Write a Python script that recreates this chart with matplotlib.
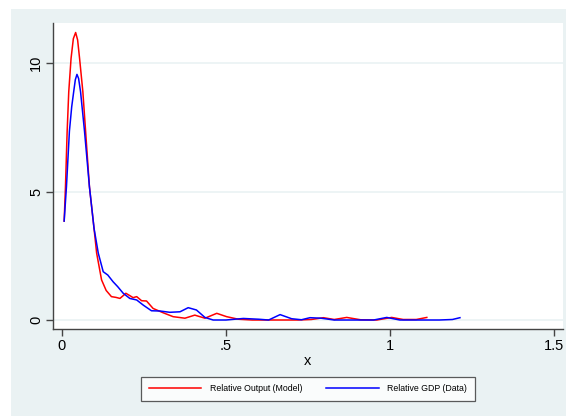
import matplotlib.pyplot as plt
from matplotlib.patches import Rectangle

plt.rcParams['font.family'] = ['Liberation Sans', 'DejaVu Sans']

# Relative Output (Model) density
model_x = [0.007, 0.011, 0.016, 0.021, 0.028, 0.035, 0.042, 0.048, 0.054, 0.064,
           0.071, 0.084, 0.098, 0.106, 0.121, 0.135, 0.151, 0.165, 0.177, 0.187,
           0.195, 0.207, 0.217, 0.228, 0.243, 0.258, 0.278, 0.309, 0.339, 0.375,
           0.405, 0.436, 0.472, 0.502, 0.538, 0.580, 0.650, 0.720, 0.760, 0.797,
           0.830, 0.868, 0.910, 0.960, 1.005, 1.040, 1.080, 1.112]
model_y = [3.85, 5.19, 7.3, 8.88, 10.18, 10.95, 11.19, 10.9, 10.18, 8.88,
           7.59, 5.19, 3.57, 2.6, 1.56, 1.15, 0.91, 0.88, 0.84, 0.95,
           1.04, 0.95, 0.87, 0.91, 0.75, 0.74, 0.45, 0.28, 0.13, 0.07,
           0.19, 0.07, 0.26, 0.13, 0.03, 0.0, 0.0, 0.0, 0.02, 0.09,
           0.02, 0.10, 0.01, 0.0, 0.10, 0.02, 0.02, 0.10]

# Relative GDP (Data) density
data_x = [0.007, 0.014, 0.023, 0.030, 0.036, 0.041, 0.046, 0.051, 0.057, 0.069,
          0.084, 0.098, 0.111, 0.126, 0.140, 0.156, 0.170, 0.187, 0.207, 0.228,
          0.248, 0.273, 0.299, 0.329, 0.360, 0.385, 0.410, 0.436, 0.461, 0.500,
          0.553, 0.600, 0.630, 0.665, 0.700, 0.730, 0.756, 0.790, 0.830, 0.900,
          0.950, 0.990, 1.030, 1.100, 1.150, 1.190, 1.213]
data_y = [3.85, 5.19, 7.35, 8.3, 8.88, 9.35, 9.56, 9.4, 8.88, 7.35,
          5.19, 3.57, 2.6, 1.88, 1.75, 1.49, 1.3, 1.04, 0.84, 0.78,
          0.58, 0.36, 0.35, 0.30, 0.32, 0.48, 0.39, 0.10, 0.0, 0.0,
          0.06, 0.03, 0.0, 0.21, 0.05, 0.01, 0.09, 0.07, 0.0, 0.0,
          0.0, 0.10, 0.0, 0.0, 0.0, 0.02, 0.09]

xticks = [0, 0.5, 1, 1.5]
xtick_labels = ['0', '.5', '1', '1.5']
yticks = [0, 5, 10]

bg = '#EAF2F3'
fig = plt.figure(figsize=(5.66, 4.16), dpi=100, facecolor='white')
fig.patches.append(Rectangle((11 / 566, 0), 1, (416 - 9) / 416,
                             transform=fig.transFigure, facecolor=bg,
                             edgecolor='none', zorder=-10))

ax = fig.add_axes([53 / 566, 1 - 329 / 416, 510 / 566, 306 / 416])
ax.set_zorder(1)
ax.set_facecolor('white')
ax.plot(model_x, model_y, color='#FF0000', lw=1.1, label='Relative Output (Model)')
ax.plot(data_x, data_y, color='#0000FF', lw=1.1, label='Relative GDP (Data)')

ax.set_xlim(-0.027, 1.527)
ax.set_ylim(-0.35, 11.56)
ax.set_xticks(xticks)
ax.set_xticklabels(xtick_labels)
ax.set_yticks(yticks)
ax.set_yticklabels([str(v) for v in yticks], rotation=90, va='center')
for v in yticks:
    ax.axhline(v, color=bg, lw=1.2, zorder=0)

for s in ['top', 'right']:
    ax.spines[s].set_visible(False)
for s in ['left', 'bottom']:
    ax.spines[s].set_color('#444444')
    ax.spines[s].set_linewidth(1.0)
ax.tick_params(direction='out', length=5, width=1.0, color='#444444',
               labelsize=10.5, pad=2)
ax.set_xlabel('x', fontsize=10.5, labelpad=1)

leg = ax.legend(loc='center', bbox_to_anchor=(0.5, -0.196), ncol=2,
                fontsize=6.3, frameon=True, fancybox=False, edgecolor='#333333',
                handlelength=6.0, columnspacing=2.7, borderpad=0.9,
                handletextpad=1.0)
leg.get_frame().set_linewidth(0.9)

fig.savefig('out.png', dpi=100, facecolor='white')
